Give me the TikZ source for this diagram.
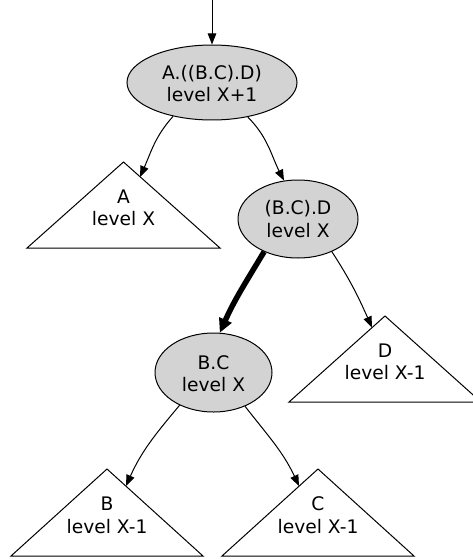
\documentclass[tikz,border=0pt]{standalone}
\usepackage{fontspec}
\setmainfont{DejaVu Sans}
\usetikzlibrary{shapes.geometric,arrows.meta}
\definecolor{nodegray}{HTML}{D3D3D3}
\begin{document}
\begin{tikzpicture}[x=1pt,y=-1pt,
  font=\fontsize{18.67}{22.4}\selectfont,
  state/.style={ellipse,draw,fill=nodegray,line width=1pt,inner sep=0pt},
  tri/.style={draw,line width=1pt,line join=miter},
  lbl/.style={align=center,inner sep=0pt,anchor=base},
  edge/.style={line width=1pt,-{Triangle[length=11pt,width=8.5pt]}},
  heavy/.style={line width=5.5pt,-{Triangle[length=14pt,width=13pt]}}
]
\useasboundingbox (0,0) rectangle (473,559);
\clip (0,0) rectangle (473,559);

% subtree triangles
\draw[tri] (123.5,162) -- (220,248) -- (27,248) -- cycle;
\draw[tri] (385,316) -- (481,402) -- (289,402) -- cycle;
\draw[tri] (107,469) -- (203,556) -- (11,556) -- cycle;
\draw[tri] (318,469) -- (414,556) -- (222,556) -- cycle;

% subtree labels (base anchor sits on the last line)
\node[lbl] (la) at (123.5,225.7) {A\\level X};
\node[lbl] (ld) at (385,379.7) {D\\level X-1};
\node[lbl] (lb) at (107,533) {B\\level X-1};
\node[lbl] (lc) at (318,533) {C\\level X-1};

% arrow targets on triangle edges
\coordinate (tA) at (140,177);
\coordinate (tD) at (372,327.5);
\coordinate (tB) at (126,486);
\coordinate (tC) at (299,486);
\coordinate (entry) at (212,-2);

% inner nodes
\node[state,minimum width=170pt,minimum height=75pt] (top) at (212,82.5) {};
\node[state,minimum width=120pt,minimum height=78pt] (mid) at (298,219) {};
\node[state,minimum width=117pt,minimum height=79pt] (bc) at (213.5,372.5) {};
\node[lbl] (ltop) at (212,102) {A.((B.C).D)\\level X+1};
\node[lbl] (lmid) at (298,237) {(B.C).D\\level X};
\node[lbl] (lbc) at (213.5,391.4) {B.C\\level X};

% connectors
\draw[edge] (entry) -- (top.north);
\draw[edge] (top.221) to[out=228,in=66] (tA);
\draw[edge] (top.316) to[out=-45,in=117] (mid.110);
\draw[heavy] (mid.224) to[out=239,in=66] (bc.81);
\draw[edge] (mid.316) to[out=-57,in=114] (tD);
\draw[edge] (bc.224) to[out=230,in=66] (tB);
\draw[edge] (bc.313) to[out=-52,in=115] (tC);
\end{tikzpicture}
\end{document}
